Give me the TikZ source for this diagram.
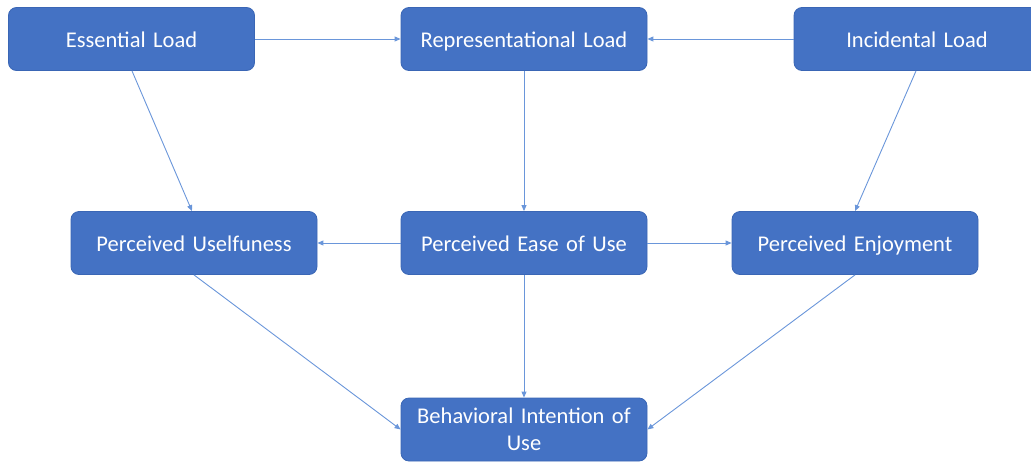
\documentclass[tikz,border=0pt]{standalone}
\usepackage{fontspec}
\setmainfont{Carlito}
\usetikzlibrary{arrows.meta}
\definecolor{boxfill}{HTML}{4472C4}
\definecolor{boxline}{HTML}{3A66B5}
\definecolor{arrowc}{HTML}{6A96DA}
\begin{document}
\begin{tikzpicture}[x=1pt,y=-1pt,
  boxbase/.style={draw=boxline, line width=0.8pt, fill=boxfill, rounded corners=8pt,
    minimum width=246pt, minimum height=63pt, text=white, align=center,
    font=\fontsize{22.5}{26.5}\selectfont, inner sep=2pt, text width=238pt},
  box/.style={boxbase, text height=18pt, text depth=2pt},
  conn/.style={draw=arrowc, line width=0.9pt, -{Triangle[length=6pt,width=5pt]}}]
\useasboundingbox (0,0) rectangle (1031,461);
\node[box] (EL) at (131.5,39) {Essential Load};
\node[box] (RL) at (524,39) {Representational Load};
\node[box] (IL) at (917,39) {Incidental Load};
\node[box] (PU) at (194,243) {Perceived Uselfuness};
\node[box] (PEU) at (524,243) {Perceived Ease of Use};
\node[box] (PE) at (855,243) {Perceived Enjoyment};
\node[boxbase] (BI) at (524,429.5) {Behavioral Intention of\\Use};
\coordinate (ELb) at (132,71);
\coordinate (PUt) at (192,211);
\coordinate (ILb) at (916,71);
\coordinate (PEt) at (855,211);
\draw[conn] (EL.east) -- (RL.west);
\draw[conn] (IL.west) -- (RL.east);
\draw[conn] (EL.south -| ELb) -- (PU.north -| PUt);
\draw[conn] (RL.south) -- (PEU.north);
\draw[conn] (IL.south -| ILb) -- (PE.north -| PEt);
\draw[conn] (PEU.west) -- (PU.east);
\draw[conn] (PEU.east) -- (PE.west);
\draw[conn] (PU.south) -- (BI.west);
\draw[conn] (PEU.south) -- (BI.north);
\draw[conn] (PE.south) -- (BI.east);
\end{tikzpicture}
\end{document}
